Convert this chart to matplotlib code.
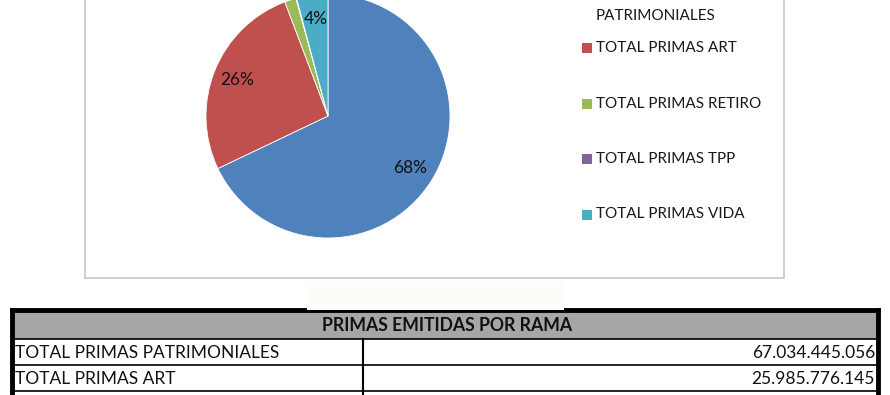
import matplotlib
matplotlib.use("Agg")
import matplotlib.pyplot as plt
from matplotlib.patches import Rectangle

plt.rcParams['font.family'] = ['Lato', 'DejaVu Sans']

# ---- data ----
categories = ["TOTAL PRIMAS PATRIMONIALES", "TOTAL PRIMAS ART", "TOTAL PRIMAS RETIRO",
              "TOTAL PRIMAS TPP", "TOTAL PRIMAS VIDA"]
legend_labels = ["TOTAL PRIMAS\nPATRIMONIALES", "TOTAL PRIMAS ART", "TOTAL PRIMAS RETIRO",
                 "TOTAL PRIMAS TPP", "TOTAL PRIMAS VIDA"]
values = [67034445056, 25985776145, 1500000000, 80000000, 4100000000]
colors = ["#4F81BD", "#C0504D", "#9BBB59", "#8064A2", "#4BACC6"]
table_title = "PRIMAS EMITIDAS POR RAMA"

W, H = 890, 395
fig = plt.figure(figsize=(W / 100, H / 100), dpi=100)
fig.patch.set_facecolor("white")

# pie axes: center (328,116) radius 122 px
cx, cy, r = 328, 116, 122
pax = fig.add_axes([(cx - r) / W, (H - cy - r) / H, 2 * r / W, 2 * r / H])
pax.set_zorder(1)


def fmt(p):
    return f"{p:.0f}%" if p > 3 else ""


wedges, texts, autotexts = pax.pie(values, colors=colors, startangle=90, counterclock=False,
                                   autopct=fmt, pctdistance=0.8,
                                   wedgeprops=dict(edgecolor="white", linewidth=0.6),
                                   textprops=dict(fontsize=12.5, color="#111111"))
pax.set_xlim(-1, 1)
pax.set_ylim(-1, 1)
pax.set_aspect("auto")
pax.axis("off")

# overlay axes in pixel coordinates
ov = fig.add_axes([0, 0, 1, 1])
ov.set_zorder(2)
ov.set_xlim(0, W)
ov.set_ylim(H, 0)
ov.axis("off")

# chart frame
ov.add_patch(Rectangle((85, -10), 699, 288, fill=False, edgecolor="#C8C8C8", linewidth=1.2))

# legend (manual): y = centre of the last text line of each entry
leg_y = [16, 47.5, 103.5, 159, 214.5]
line_h = 23
for lab, col, y in zip(legend_labels, colors, leg_y):
    lines = lab.split("\n")
    n = len(lines)
    y_first = y - line_h * (n - 1)
    ov.add_patch(Rectangle((582, y_first - 5 - (6 if n > 1 else 0)), 10, 10,
                           facecolor=col, edgecolor="none"))
    for k, ln in enumerate(lines):
        ov.text(596, y_first + line_h * k, ln, fontsize=11, color="#1a1a1a",
                va="center", ha="left")

# table
left, right, top = 12, 877.5, 310
row_h = 26
header_bottom = 339
ov.add_patch(Rectangle((left, top), right - left, header_bottom - top, facecolor="#A6A6A6",
                       edgecolor="none"))
ov.text((left + right) / 2 + 2, (top + header_bottom) / 2 + 1, table_title, fontsize=12.7,
        fontweight="bold", ha="center", va="center", color="#111111")
for i, (cat, v) in enumerate(zip(categories, values)):
    y0 = header_bottom + i * row_h
    ov.plot([left, right], [y0, y0], color="black", linewidth=1.2, solid_capstyle="butt")
    ov.text(15, y0 + row_h / 2 + 1, cat, fontsize=12.5, ha="left", va="center", color="#111111")
    ov.text(875, y0 + row_h / 2 + 1, f"{v:,}".replace(",", "."), fontsize=12.5, ha="right",
            va="center", color="#111111")
ov.plot([363, 363], [header_bottom, H + 50], color="black", linewidth=1.5)
# outer thick border
ov.plot([left, left], [top, H + 50], color="black", linewidth=3.5, solid_capstyle="projecting")
ov.plot([right, right], [top, H + 50], color="black", linewidth=3.5, solid_capstyle="projecting")
ov.plot([left, right], [top, top], color="black", linewidth=3.5, solid_capstyle="projecting")
# pale overlapping box above table
ov.add_patch(Rectangle((307, 281), 257, 28.5, facecolor="#FDFCF9", edgecolor="none", zorder=5))

fig.savefig("out.png", dpi=100, facecolor="white")
